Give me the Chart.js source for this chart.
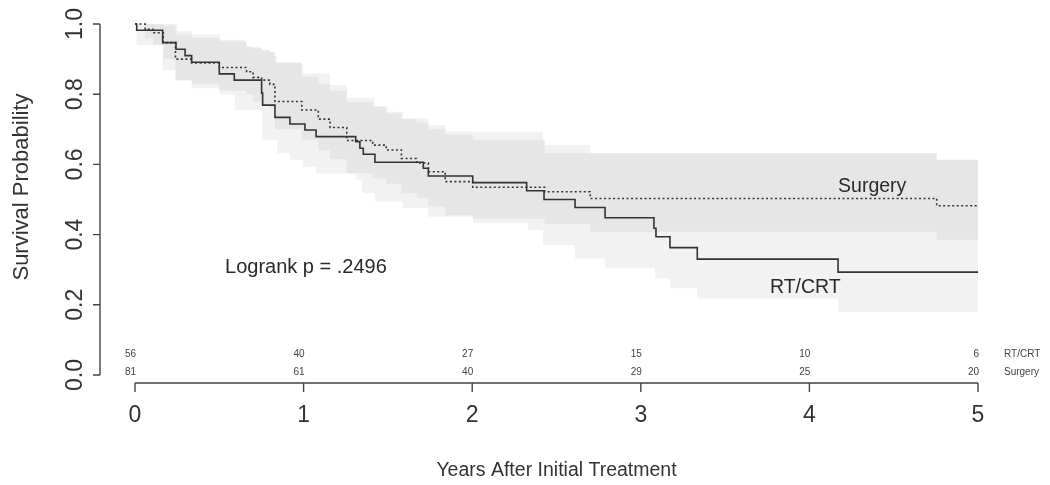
<!DOCTYPE html>
<html>
<head>
<meta charset="utf-8">
<script src="https://cdn.jsdelivr.net/npm/chart.js@4.4.1/dist/chart.umd.min.js"></script>
<style>
    html, body { margin: 0; padding: 0; background: #fff; }
    #chart-container { width: 1050px; height: 485px; position: relative; }
</style>
</head>
<body>
<div id="chart-container"><canvas id="km"></canvas></div>
<script>
// Kaplan-Meier curves (time in years, survival after the step)
const rtTimes = [0, 0.01, 0.164, 0.243, 0.297, 0.336, 0.50, 0.589, 0.751, 0.757, 0.83, 0.919, 1.008, 1.074, 1.309, 1.334, 1.354, 1.423, 1.71, 1.74, 2.003, 2.323, 2.426, 2.61, 2.788, 3.078, 3.09, 3.173, 3.335, 4.17, 5];
const rtSurv = [1.0, 0.982, 0.947, 0.928, 0.910, 0.891, 0.858, 0.840, 0.803, 0.769, 0.734, 0.715, 0.698, 0.679, 0.665, 0.646, 0.629, 0.606, 0.589, 0.567, 0.548, 0.525, 0.500, 0.477, 0.448, 0.418, 0.394, 0.363, 0.330, 0.293, 0.293];

const surgTimes = [0, 0.06, 0.107, 0.168, 0.24, 0.336, 0.50, 0.662, 0.70, 0.751, 0.80, 0.83, 0.989, 1.087, 1.157, 1.256, 1.41, 1.49, 1.58, 1.67, 1.74, 1.84, 2.003, 2.43, 2.70, 4.755, 5];
const surgSurv = [1.0, 0.985, 0.975, 0.947, 0.90, 0.889, 0.876, 0.864, 0.848, 0.840, 0.828, 0.779, 0.755, 0.729, 0.705, 0.668, 0.655, 0.641, 0.617, 0.604, 0.579, 0.551, 0.535, 0.522, 0.503, 0.482, 0.482];

// confidence bands
const rtBandTimes = [0, 0.01, 0.164, 0.25, 0.338, 0.504, 0.593, 0.652, 0.753, 0.842, 0.919, 0.996, 1.074, 1.157, 1.257, 1.309, 1.346, 1.423, 1.50, 1.59, 1.738, 1.84, 2.005, 2.331, 2.42, 2.61, 2.70, 2.788, 3.084, 3.173, 3.333, 4.17, 5];
const rtUpper = [1.0, 1.0, 1.0, 0.98, 0.97, 0.955, 0.955, 0.935, 0.91, 0.883, 0.883, 0.859, 0.859, 0.826, 0.79, 0.79, 0.79, 0.764, 0.75, 0.731, 0.712, 0.693, 0.693, 0.693, 0.655, 0.655, 0.60, 0.60, 0.55, 0.55, 0.50, 0.46, 0.46];
const rtLower = [1.0, 0.94, 0.869, 0.84, 0.817, 0.80, 0.755, 0.755, 0.67, 0.632, 0.613, 0.593, 0.574, 0.574, 0.574, 0.556, 0.518, 0.494, 0.494, 0.476, 0.451, 0.451, 0.434, 0.413, 0.37, 0.332, 0.332, 0.304, 0.275, 0.247, 0.218, 0.180, 0.180];

const surgBandTimes = [0, 0.06, 0.107, 0.168, 0.24, 0.336, 0.50, 0.662, 0.70, 0.751, 0.80, 0.83, 0.989, 1.087, 1.157, 1.256, 1.41, 1.49, 1.58, 1.67, 1.74, 1.84, 2.003, 2.43, 2.70, 4.755, 5];
const surgUpper = [1.0, 1.0, 1.0, 0.995, 0.97, 0.96, 0.95, 0.935, 0.93, 0.925, 0.92, 0.89, 0.85, 0.83, 0.81, 0.778, 0.765, 0.745, 0.73, 0.72, 0.70, 0.685, 0.67, 0.632, 0.632, 0.613, 0.613];
const surgLower = [1.0, 0.96, 0.94, 0.90, 0.84, 0.83, 0.81, 0.80, 0.78, 0.77, 0.76, 0.70, 0.67, 0.64, 0.615, 0.575, 0.56, 0.545, 0.518, 0.505, 0.48, 0.455, 0.445, 0.43, 0.408, 0.385, 0.385];

// axes and numbers at risk
const xTicks = [0, 1, 2, 3, 4, 5];
const yTicks = [0, 0.2, 0.4, 0.6, 0.8, 1.0];
const yTickLabels = ['0.0', '0.2', '0.4', '0.6', '0.8', '1.0'];
const rtAtRisk = [56, 40, 27, 15, 10, 6];
const surgAtRisk = [81, 61, 40, 29, 25, 20];

const FONT = '"Liberation Sans", Arial, Helvetica, sans-serif';

function toPoints(times, values) {
    return times.map((t, i) => ({ x: t, y: values[i] }));
}

document.addEventListener('DOMContentLoaded', () => {
    const canvas = document.getElementById('km');

    // R-style detached axes, risk table and text labels
    const basePlot = {
        id: 'basePlot',
        afterDraw(chart) {
            const { ctx, scales: { x, y } } = chart;
            ctx.save();
            ctx.strokeStyle = '#444';
            ctx.lineWidth = 1.4;
            ctx.fillStyle = '#333';

            // y axis
            const ax = x.left - 35;
            ctx.beginPath();
            ctx.moveTo(ax, y.getPixelForValue(yTicks[0]));
            ctx.lineTo(ax, y.getPixelForValue(yTicks[yTicks.length - 1]));
            yTicks.forEach(v => {
                const py = y.getPixelForValue(v);
                ctx.moveTo(ax, py);
                ctx.lineTo(ax - 7, py);
            });
            ctx.stroke();
            ctx.font = '23px ' + FONT;
            ctx.textAlign = 'center';
            ctx.textBaseline = 'alphabetic';
            yTicks.forEach((v, i) => {
                ctx.save();
                ctx.translate(ax - 18, y.getPixelForValue(v));
                ctx.rotate(-Math.PI / 2);
                ctx.fillText(yTickLabels[i], 0, 0);
                ctx.restore();
            });
            ctx.save();
            ctx.font = '22px ' + FONT;
            ctx.translate(28, 187);
            ctx.rotate(-Math.PI / 2);
            ctx.fillText('Survival Probability', 0, 0);
            ctx.restore();

            // x axis
            const ay = y.bottom + 8;
            ctx.beginPath();
            ctx.moveTo(x.getPixelForValue(xTicks[0]), ay);
            ctx.lineTo(x.getPixelForValue(xTicks[xTicks.length - 1]), ay);
            xTicks.forEach(v => {
                const px = x.getPixelForValue(v);
                ctx.moveTo(px, ay);
                ctx.lineTo(px, ay + 9);
            });
            ctx.stroke();
            ctx.font = '23px ' + FONT;
            xTicks.forEach(v => {
                ctx.fillText(String(v), x.getPixelForValue(v), ay + 39);
            });
            ctx.font = '19.5px ' + FONT;
            ctx.fillText('Years After Initial Treatment', (x.left + x.right) / 2, 476);

            // numbers at risk
            ctx.font = '10px ' + FONT;
            ctx.fillStyle = '#444';
            ctx.textAlign = 'right';
            xTicks.forEach((v, i) => {
                const px = x.getPixelForValue(v) + 1;
                ctx.fillText(String(rtAtRisk[i]), px, 357);
                ctx.fillText(String(surgAtRisk[i]), px, 375);
            });
            ctx.textAlign = 'left';
            ctx.fillText('RT/CRT', 1004, 357);
            ctx.fillText('Surgery', 1004, 375);

            // curve labels
            ctx.fillStyle = '#2a2a2a';
            ctx.textBaseline = 'middle';
            ctx.font = '20px ' + FONT;
            ctx.fillText('Logrank p = .2496', x.getPixelForValue(0.534), y.getPixelForValue(0.305));
            ctx.font = '19.5px ' + FONT;
            ctx.fillText('Surgery', x.getPixelForValue(4.17), y.getPixelForValue(0.536));
            ctx.fillText('RT/CRT', x.getPixelForValue(3.766), y.getPixelForValue(0.248));
            ctx.restore();
        }
    };

    const band = (data, fill, color, order) => ({
        data: data,
        stepped: true,
        borderWidth: 0,
        borderColor: 'rgba(0,0,0,0)',
        backgroundColor: color,
        pointRadius: 0,
        fill: fill,
        order: order,
        clip: 4
    });

    new Chart(canvas, {
        type: 'line',
        data: {
            datasets: [{
                label: 'RT/CRT',
                data: toPoints(rtTimes, rtSurv),
                stepped: true,
                borderColor: '#333',
                borderWidth: 1.6,
                pointRadius: 0,
                fill: false,
                order: 0,
                clip: 4
            }, {
                label: 'Surgery',
                data: toPoints(surgTimes, surgSurv),
                stepped: true,
                borderColor: '#333',
                borderWidth: 1.6,
                borderDash: [2, 2.5],
                pointRadius: 0,
                fill: false,
                order: 0,
                clip: 4
            },
            band(toPoints(surgBandTimes, surgUpper), '+1', '#e6e6e6', 1),
            band(toPoints(surgBandTimes, surgLower), false, '#e6e6e6', 1),
            band(toPoints(rtBandTimes, rtUpper), '+1', '#f2f2f2', 2),
            band(toPoints(rtBandTimes, rtLower), false, '#f2f2f2', 2)]
        },
        options: {
            responsive: true,
            maintainAspectRatio: false,
            animation: false,
            layout: { padding: { left: 135, right: 72, top: 24, bottom: 110 } },
            plugins: {
                legend: { display: false },
                tooltip: { enabled: false },
                title: { display: false }
            },
            scales: {
                x: { type: 'linear', min: 0, max: 5, display: false },
                y: { type: 'linear', min: 0, max: 1, display: false }
            }
        },
        plugins: [basePlot]
    });
});
</script>
</body>
</html>
